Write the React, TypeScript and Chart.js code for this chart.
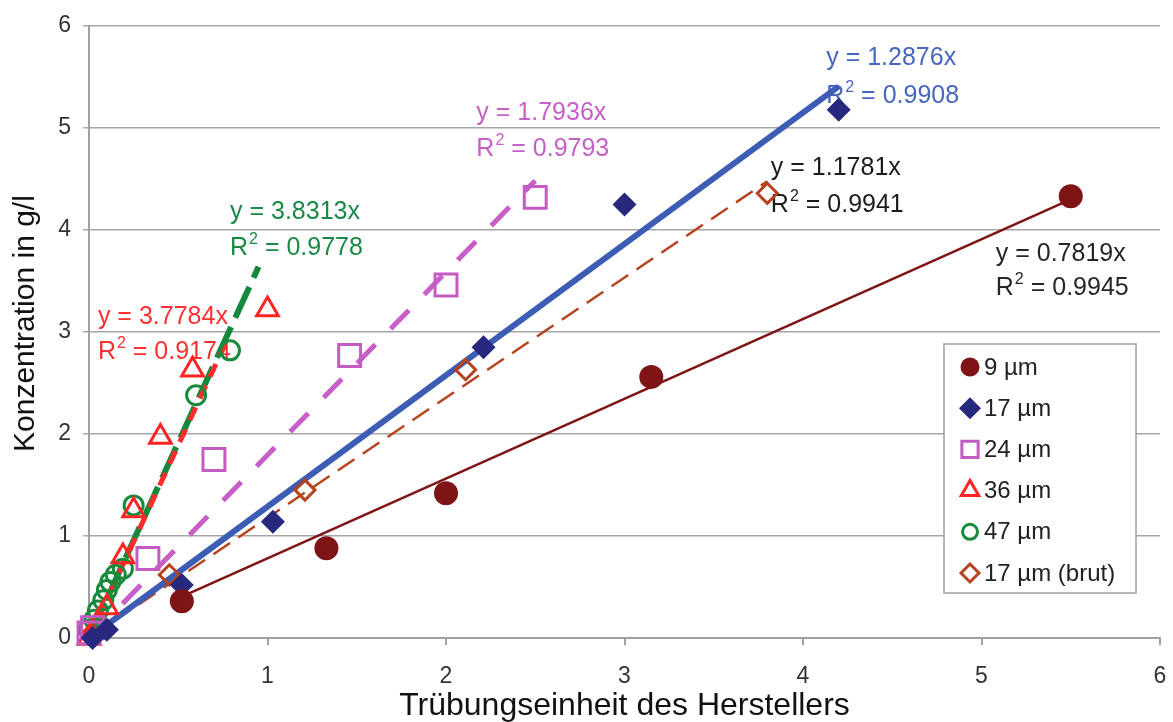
import React, { useEffect, useRef } from 'react';
import { Chart, registerables } from 'chart.js';
import { drawPoint } from 'chart.js/helpers';

Chart.register(...registerables);

const FONT = "'Liberation Sans', Arial, sans-serif";

// ---- data ----
const x9 = [0.52, 1.33, 2.0, 3.15, 5.5];
const y9 = [0.36, 0.88, 1.42, 2.56, 4.33];

const x17 = [0.02, 0.1, 0.52, 1.03, 2.21, 3.0, 4.2];
const y17 = [0.0, 0.08, 0.52, 1.14, 2.85, 4.25, 5.18];

const x24 = [0.0, 0.02, 0.33, 0.7, 1.46, 2.0, 2.5];
const y24 = [0.05, 0.1, 0.78, 1.75, 2.77, 3.46, 4.32];

const x36 = [0.0, 0.05, 0.1, 0.19, 0.25, 0.4, 0.58, 1.0];
const y36 = [0.0, 0.15, 0.3, 0.8, 1.25, 1.97, 2.63, 3.22];

const x47 = [0.0, 0.03, 0.05, 0.08, 0.1, 0.12, 0.15, 0.19, 0.25, 0.6, 0.79];
const y47 = [0.08, 0.18, 0.27, 0.37, 0.47, 0.55, 0.62, 0.68, 1.3, 2.38, 2.82];

const x17b = [0.02, 0.45, 1.21, 2.11, 3.8];
const y17b = [0.05, 0.62, 1.45, 2.63, 4.36];

const seriesNames = ['9 µm', '17 µm', '24 µm', '36 µm', '47 µm', '17 µm (brut)'];

// trendline slopes (from the chart's equations) and the x-range drawn
const slopes = [0.7819, 1.2876, 1.7936, 3.7784, 3.8313, 1.1781];
const r2Values = ['0.9945', '0.9908', '0.9793', '0.9174', '0.9778', '0.9941'];
const trendFrom = [0.52, 0, 0, 0, 0, 0];
const trendTo = [5.5, 4.2, 2.5, 0.76, 0.95, 3.8];

// label anchor (data coords): left x, eq line y, R² line y
const labelX = [5.08, 4.13, 2.17, 0.05, 0.79, 3.82];
const labelY1 = [3.76, 5.69, 5.15, 3.15, 4.18, 4.61];
const labelY2 = [3.43, 5.31, 4.79, 2.8, 3.82, 4.24];

const xTicks = [0, 1, 2, 3, 4, 5, 6];
const yTicks = [0, 1, 2, 3, 4, 5, 6];

const xTitle = 'Trübungseinheit des Herstellers';
const yTitle = 'Konzentration in g/l';

// ---- styles ----
const colors = ['#7e1416', '#26297e', '#c35bc3', '#ff2424', '#198a3c', '#b5431e'];
const trendColors = ['#7e1416', '#3d5db5', '#c85ec8', '#ff2b2b', '#16883d', '#b5431e'];
const labelColors = ['#262626', '#4766bd', '#c65fc6', '#ff3030', '#198a45', '#1c1c1c'];
const pointStyles = ['circle', 'rectRot', 'rect', 'triangle', 'circle', 'rectRot'];
const pointRadii = [12, 12, 15.5, 12.5, 9.5, 10];
const filled = [true, true, false, false, false, false];
const pointBorder = [1, 1, 3, 3, 3, 3];
const trendWidths = [2.5, 6, 5, 5, 6, 2.5];
const trendDash: number[][] = [[], [], [26, 22], [14, 10], [34, 10], [20, 10]];

const legendRadii = [9.5, 11, 11.5, 10, 7.5, 9];

const xs = [x9, x17, x24, x36, x47, x17b];
const ys = [y9, y17, y24, y36, y47, y17b];

const labelPlugin = {
  id: 'trendLabels',
  beforeDatasetsDraw(chart: any) {
    const { ctx } = chart;
    const sx = chart.scales.x;
    const sy = chart.scales.y;
    ctx.save();
    ctx.textBaseline = 'middle';
    ctx.textAlign = 'left';
    for (let i = 0; i < slopes.length; i++) {
      const px = sx.getPixelForValue(labelX[i]);
      ctx.fillStyle = labelColors[i];
      ctx.font = `25px ${FONT}`;
      ctx.fillText(`y = ${slopes[i].toFixed(4)}x`, px, sy.getPixelForValue(labelY1[i]));
      const py2 = sy.getPixelForValue(labelY2[i]);
      ctx.fillText('R', px, py2);
      const wR = ctx.measureText('R').width;
      ctx.font = `16px ${FONT}`;
      ctx.fillText('2', px + wR + 1, py2 - 9);
      const w2 = ctx.measureText('2').width;
      ctx.font = `25px ${FONT}`;
      ctx.fillText(` = ${r2Values[i]}`, px + wR + w2 + 1, py2);
    }
    ctx.restore();
  },
};

const legendPlugin = {
  id: 'boxLegend',
  afterDatasetsDraw(chart: any) {
    const { ctx } = chart;
    const left = 944;
    const top = 344;
    const w = 192;
    const h = 249;
    ctx.save();
    ctx.fillStyle = '#ffffff';
    ctx.fillRect(left, top, w, h);
    ctx.strokeStyle = '#a0a0a0';
    ctx.lineWidth = 1.5;
    ctx.strokeRect(left, top, w, h);
    ctx.textBaseline = 'middle';
    ctx.textAlign = 'left';
    for (let i = 0; i < seriesNames.length; i++) {
      const cy = top + 23 + i * 41.2;
      ctx.fillStyle = filled[i] ? colors[i] : '#ffffff';
      ctx.strokeStyle = colors[i];
      ctx.lineWidth = filled[i] ? 0 : 3;
      drawPoint(ctx, {
        pointStyle: pointStyles[i],
        radius: legendRadii[i],
        borderWidth: filled[i] ? 0 : 3,
        rotation: 0,
      } as any, 970, cy);
      ctx.font = `24px ${FONT}`;
      ctx.fillStyle = '#222222';
      ctx.fillText(seriesNames[i], 984, cy + 1);
    }
    // y axis title
    ctx.save();
    ctx.translate(34, 452);
    ctx.rotate(-Math.PI / 2);
    ctx.textAlign = 'left';
    ctx.textBaseline = 'alphabetic';
    ctx.font = `30px ${FONT}`;
    ctx.fillStyle = '#111111';
    ctx.fillText(yTitle, 0, 0);
    ctx.restore();
    ctx.restore();
  },
};

export default function App() {
  const ref = useRef<HTMLCanvasElement>(null);
  useEffect(() => {
    if (!ref.current) return;
    const scatterSets = seriesNames.map((name, i) => ({
      type: 'scatter' as const,
      label: name,
      data: xs[i].map((x, j) => ({ x, y: ys[i][j] })),
      pointStyle: pointStyles[i],
      pointRadius: pointRadii[i],
      pointHoverRadius: pointRadii[i],
      backgroundColor: filled[i] ? colors[i] : 'rgba(0,0,0,0)',
      borderColor: colors[i],
      borderWidth: filled[i] ? 0 : pointBorder[i],
      showLine: false,
      clip: false as any,
      order: 0,
    }));
    const trendSets = seriesNames.map((name, i) => ({
      type: 'scatter' as const,
      label: name + ' trend',
      data: [
        { x: trendFrom[i], y: slopes[i] * trendFrom[i] },
        { x: trendTo[i], y: slopes[i] * trendTo[i] },
      ],
      showLine: true,
      pointRadius: 0,
      borderColor: trendColors[i],
      borderWidth: trendWidths[i],
      borderDash: trendDash[i],
      backgroundColor: trendColors[i],
      clip: false as any,
      order: 1,
    }));
    const chart = new Chart(ref.current, {
      type: 'scatter',
      data: { datasets: [...scatterSets, ...trendSets] as any },
      options: {
        animation: false,
        responsive: false,
        events: [],
        layout: { autoPadding: false, padding: { left: 0, right: 13, top: 26, bottom: 0 } },
        plugins: {
          legend: { display: false },
          tooltip: { enabled: false },
        },
        scales: {
          x: {
            type: 'linear',
            min: 0,
            max: 6,
            afterFit: (s: any) => { s.height = 84; s.paddingLeft = 0; s.paddingRight = 0; },
            afterBuildTicks: (s: any) => { s.ticks = xTicks.map((v) => ({ value: v })); },
            ticks: {
              font: { family: FONT, size: 23 },
              color: '#333333',
              padding: 18,
              maxRotation: 0,
            },
            grid: {
              drawOnChartArea: false,
              drawTicks: true,
              tickLength: 7,
              color: '#a0a0a0',
              lineWidth: 2,
            },
            border: { display: true, color: '#a0a0a0', width: 2 },
            title: {
              display: true,
              text: xTitle,
              font: { family: FONT, size: 32, lineHeight: 1 },
              color: '#111111',
              padding: { top: 0, bottom: 0 },
            },
          },
          y: {
            type: 'linear',
            min: 0,
            max: 6,
            afterFit: (s: any) => { s.width = 89; s.paddingTop = 0; s.paddingBottom = 0; },
            afterBuildTicks: (s: any) => { s.ticks = yTicks.map((v) => ({ value: v })); },
            ticks: {
              font: { family: FONT, size: 23 },
              color: '#333333',
              padding: 12,
            },
            grid: {
              drawOnChartArea: true,
              drawTicks: true,
              tickLength: 6,
              color: '#a6a6a6',
              lineWidth: 1.5,
            },
            border: { display: true, color: '#a0a0a0', width: 2 },
            title: { display: false },
          },
        },
      },
      plugins: [labelPlugin, legendPlugin],
    });
    return () => chart.destroy();
  }, []);
  return (
    <div style={{ position: 'absolute', left: 0, top: 0, width: 1173, height: 722, background: '#ffffff' }}>
      <canvas ref={ref} width={1173} height={722} style={{ display: 'block' }} />
    </div>
  );
}
